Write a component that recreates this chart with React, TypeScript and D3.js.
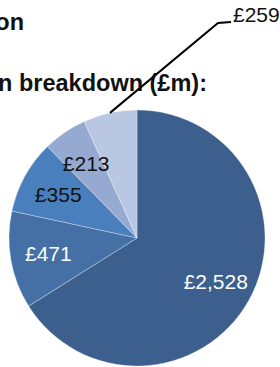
import React from 'react'
import * as d3 from 'd3'

const labels = ['£2,528', '£471', '£355', '£213', '£259']
const values = [2528, 471, 355, 213, 259]
const colors = ['#3c5f8d', '#4470a5', '#4a7fbd', '#95a9d1', '#b9c7e2']
const labelColors = ['#ffffff', '#ffffff', '#111111', '#111111', '#111111']
const titleLines = ['on', 'n breakdown (£m):']

const width = 280
const height = 367
const cx = 137
const cy = 238
const radius = 128
const labelRadius = 90

export default function App() {
	const pie = d3
		.pie<number>()
		.sort(null)
		.value(d => d)
	const arcs = pie(values)
	const arc = d3
		.arc<d3.PieArcDatum<number>>()
		.innerRadius(0)
		.outerRadius(radius)
	const labelArc = d3
		.arc<d3.PieArcDatum<number>>()
		.innerRadius(labelRadius)
		.outerRadius(labelRadius)

	// last slice gets a leader line out to the top right
	const last = arcs[arcs.length - 1]
	const mid = (last.startAngle + last.endAngle) / 2
	const edge: [number, number] = [radius * Math.sin(mid), -radius * Math.cos(mid)]
	const elbow: [number, number] = [81, -215]
	const tail: [number, number] = [94, -216]
	const line = d3.line()([edge, elbow, tail]) || ''

	return (
		<svg
			width={width}
			height={height}
			style={{ position: 'absolute', left: 0, top: 0, fontFamily: '"Liberation Sans", Arial, sans-serif' }}
		>
			<rect width={width} height={height} fill="#ffffff" />
			<text x={24} y={30} textAnchor="end" fontWeight="bold" fontSize={23.5} fill="#111">
				{titleLines[0]}
			</text>
			<text x={207} y={91} textAnchor="end" fontWeight="bold" fontSize={23.5} fill="#111">
				{titleLines[1]}
			</text>
			<g transform={`translate(${cx}, ${cy})`}>
				{arcs.map((a, i) => (
					<path key={i} d={arc(a) || ''} fill={colors[i]} stroke="#ffffff" strokeWidth={0.5} strokeOpacity={0.6} />
				))}
				{arcs.slice(0, -1).map((a, i) => {
					const [x, y] = labelArc.centroid(a)
					return (
						<text key={i} x={x} y={y} dy="0.35em" textAnchor="middle" fontSize={21} fill={labelColors[i]}>
							{labels[i]}
						</text>
					)
				})}
				<path d={line} fill="none" stroke="#000" strokeWidth={2} />
				<text x={tail[0] + 2} y={tail[1]} fontSize={21} fill="#111">
					{labels[labels.length - 1]}
				</text>
			</g>
		</svg>
	)
}
